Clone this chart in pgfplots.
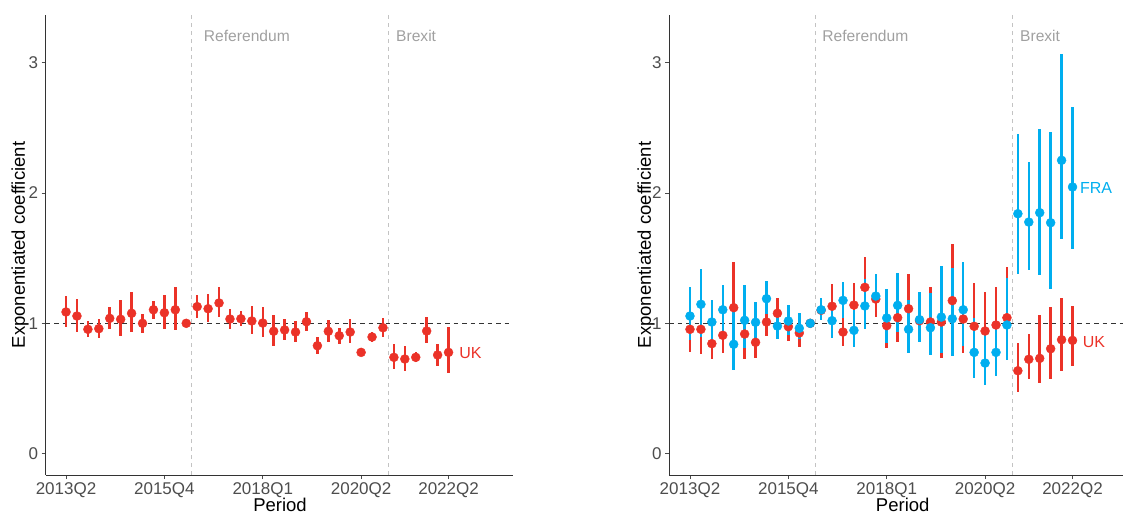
\documentclass[border=0pt]{standalone}
\usepackage{pgfplots}
\pgfplotsset{compat=1.18}
\usepackage{pgfplotstable}
\usepackage{fontspec}
\setmainfont{Liberation Sans}
\definecolor{ukred}{RGB}{235,50,40}
\definecolor{frablue}{RGB}{0,174,239}
\definecolor{ticktext}{RGB}{77,77,77}
\definecolor{annot}{RGB}{160,160,160}
\definecolor{vline}{RGB}{195,195,195}

\pgfplotstableread{
i v lo hi
0 1.087 0.974 1.209
1 1.056 0.933 1.186
2 0.954 0.895 1.015
3 0.959 0.890 1.031
4 1.038 0.956 1.125
5 1.031 0.905 1.177
6 1.077 0.933 1.242
7 1.000 0.928 1.074
8 1.104 1.035 1.173
9 1.081 0.959 1.215
10 1.104 0.949 1.279
11 1.000 1.000 1.000
12 1.128 1.038 1.215
13 1.112 1.012 1.223
14 1.156 1.051 1.276
15 1.033 0.959 1.112
16 1.035 0.979 1.094
17 1.018 0.920 1.130
18 1.002 0.895 1.123
19 0.939 0.824 1.066
20 0.949 0.874 1.031
21 0.933 0.854 1.018
22 1.012 0.943 1.084
23 0.828 0.767 0.895
24 0.939 0.859 1.025
25 0.905 0.839 0.966
26 0.933 0.846 1.031
27 0.777 0.762 0.795
28 0.895 0.859 0.936
29 0.966 0.897 1.038
30 0.739 0.649 0.841
31 0.726 0.636 0.824
32 0.739 0.701 0.782
33 0.941 0.846 1.048
34 0.757 0.672 0.841
35 0.777 0.621 0.969
}\ukleft

\pgfplotstableread{
i v lo hi
0 0.954 0.782 1.164
1 0.954 0.767 1.190
2 0.844 0.724 0.980
3 0.908 0.774 1.060
4 1.120 0.850 1.470
5 0.918 0.724 1.160
6 0.854 0.731 1.000
7 1.010 0.905 1.120
8 1.077 0.960 1.192
9 0.974 0.866 1.090
10 0.926 0.820 1.050
11 1.000 1.000 1.000
12 1.100 1.040 1.170
13 1.131 0.980 1.302
14 0.933 0.826 1.050
15 1.140 0.980 1.307
16 1.276 1.080 1.507
17 1.186 1.046 1.330
18 0.982 0.808 1.180
19 1.043 0.859 1.250
20 1.112 0.920 1.381
21 1.020 0.880 1.170
22 1.010 0.820 1.276
23 1.010 0.731 1.350
24 1.174 0.930 1.609
25 1.033 0.774 1.300
26 0.977 0.750 1.307
27 0.941 0.720 1.240
28 0.987 0.770 1.281
29 1.043 0.800 1.430
30 0.636 0.475 0.847
31 0.724 0.573 0.916
32 0.731 0.544 1.064
33 0.805 0.573 1.127
34 0.874 0.634 1.192
35 0.869 0.670 1.130
}\ukright

\pgfplotstableread{
i v lo hi
0 1.056 0.872 1.279
1 1.146 0.897 1.417
2 1.010 0.870 1.176
3 1.104 0.936 1.294
4 0.839 0.639 1.110
5 1.023 0.808 1.294
6 1.008 0.872 1.163
7 1.189 1.071 1.322
8 0.979 0.882 1.060
9 1.018 0.910 1.140
10 0.962 0.880 1.081
11 1.000 1.000 1.000
12 1.104 1.025 1.192
13 1.020 0.885 1.120
14 1.176 1.038 1.319
15 0.946 0.820 1.100
16 1.133 0.959 1.338
17 1.209 1.170 1.376
18 1.041 0.847 1.261
19 1.138 0.936 1.384
20 0.954 0.770 1.179
21 1.028 0.854 1.238
22 0.966 0.759 1.230
23 1.048 0.770 1.440
24 1.035 0.751 1.422
25 1.104 0.826 1.470
26 0.777 0.583 1.038
27 0.695 0.529 0.930
28 0.777 0.598 1.000
29 0.987 0.721 1.350
30 1.841 1.381 2.451
31 1.777 1.411 2.240
32 1.849 1.371 2.491
33 1.772 1.266 2.468
34 2.251 1.647 3.069
35 2.046 1.570 2.658
}\fra

\pgfplotsset{
  panel/.style={
    scale only axis, height=460pt,
    ymin=-0.164, ymax=3.366,
    axis lines*=left,
    axis line style={black!80, line width=0.9pt},
    ytick={0,1,2,3},
    xtick={0,9,18,27,35},
    xticklabels={2013Q2,2015Q4,2018Q1,2020Q2,2022Q2},
    tick align=outside,
    major tick length=4pt,
    tick style={black!70, line width=0.8pt},
    tick label style={font=\fontsize{17}{17}\selectfont, text=ticktext},
    /pgf/number format/assume math mode=true,
    clip=false,
  },
  errs/.style={only marks, mark=none,
    /pgfplots/error bars/y dir=both,
    /pgfplots/error bars/y explicit,
    /pgfplots/error bars/error mark=none,
    /pgfplots/error bars/error bar style={line width=2.5pt, draw=#1}},
  pts/.style={only marks, mark=*, mark size=4.5pt, color=#1, mark options={draw=#1, fill=#1}},
}

\begin{document}
\begin{tikzpicture}
\useasboundingbox (0pt,0pt) rectangle (1124pt,514pt);

% Left panel
\begin{axis}[panel, at={(45.7pt,39pt)}, anchor=south west, width=467pt,
  xmin=-1.86, xmax=40.87]
  \draw[vline, dash pattern=on 4pt off 4pt, line width=0.9pt] (axis cs:11.5,-0.164) -- (axis cs:11.5,3.366);
  \draw[vline, dash pattern=on 4pt off 4pt, line width=0.9pt] (axis cs:29.5,-0.164) -- (axis cs:29.5,3.366);
  \draw[black!80, dash pattern=on 4.5pt off 4pt, line width=1.3pt] (axis cs:-1.86,1) -- (axis cs:40.87,1);
  \addplot[errs=ukred] table[x=i, y=v, y error plus expr=\thisrow{hi}-\thisrow{v}, y error minus expr=\thisrow{v}-\thisrow{lo}] {\ukleft};
  \addplot[pts=ukred] table[x=i, y=v] {\ukleft};
  \node[font=\fontsize{15.6}{15.6}\selectfont, text=annot, anchor=west, inner sep=0pt] at (axis cs:12.6,3.205) {Referendum};
  \node[font=\fontsize{15.6}{15.6}\selectfont, text=annot, anchor=west, inner sep=0pt] at (axis cs:30.19,3.205) {Brexit};
  \node[font=\fontsize{16}{16}\selectfont, text=ukred, inner sep=0pt] at (axis cs:37.0,0.772) {UK};
\end{axis}

% Right panel
\begin{axis}[panel, at={(669pt,39pt)}, anchor=south west, width=454pt,
  xmin=-1.92, xmax=39.62]
  \draw[vline, dash pattern=on 4pt off 4pt, line width=0.9pt] (axis cs:11.5,-0.164) -- (axis cs:11.5,3.366);
  \draw[vline, dash pattern=on 4pt off 4pt, line width=0.9pt] (axis cs:29.5,-0.164) -- (axis cs:29.5,3.366);
  \draw[black!80, dash pattern=on 4.5pt off 4pt, line width=1.3pt] (axis cs:-1.92,1) -- (axis cs:39.62,1);
  \addplot[errs=ukred] table[x=i, y=v, y error plus expr=\thisrow{hi}-\thisrow{v}, y error minus expr=\thisrow{v}-\thisrow{lo}] {\ukright};
  \addplot[errs=frablue] table[x=i, y=v, y error plus expr=\thisrow{hi}-\thisrow{v}, y error minus expr=\thisrow{v}-\thisrow{lo}] {\fra};
  \addplot[pts=ukred] table[x=i, y=v] {\ukright};
  \addplot[pts=frablue] table[x=i, y=v] {\fra};
  \node[font=\fontsize{15.6}{15.6}\selectfont, text=annot, anchor=west, inner sep=0pt] at (axis cs:12.1,3.205) {Referendum};
  \node[font=\fontsize{15.6}{15.6}\selectfont, text=annot, anchor=west, inner sep=0pt] at (axis cs:30.19,3.205) {Brexit};
  \node[font=\fontsize{16}{16}\selectfont, text=ukred, inner sep=0pt] at (axis cs:36.96,0.856) {UK};
  \node[font=\fontsize{16}{16}\selectfont, text=frablue, inner sep=0pt, anchor=west] at (axis cs:35.68,2.038) {FRA};
\end{axis}

\node[rotate=90, font=\fontsize{18.5}{18.5}\selectfont] at (20pt,269pt) {Exponentiated coefficient};
\node[rotate=90, font=\fontsize{18.5}{18.5}\selectfont] at (646pt,269pt) {Exponentiated coefficient};
\node[font=\fontsize{18.5}{18.5}\selectfont, anchor=base] at (280pt,2.5pt) {Period};
\node[font=\fontsize{18.5}{18.5}\selectfont, anchor=base] at (902.7pt,2.5pt) {Period};
\end{tikzpicture}
\end{document}
